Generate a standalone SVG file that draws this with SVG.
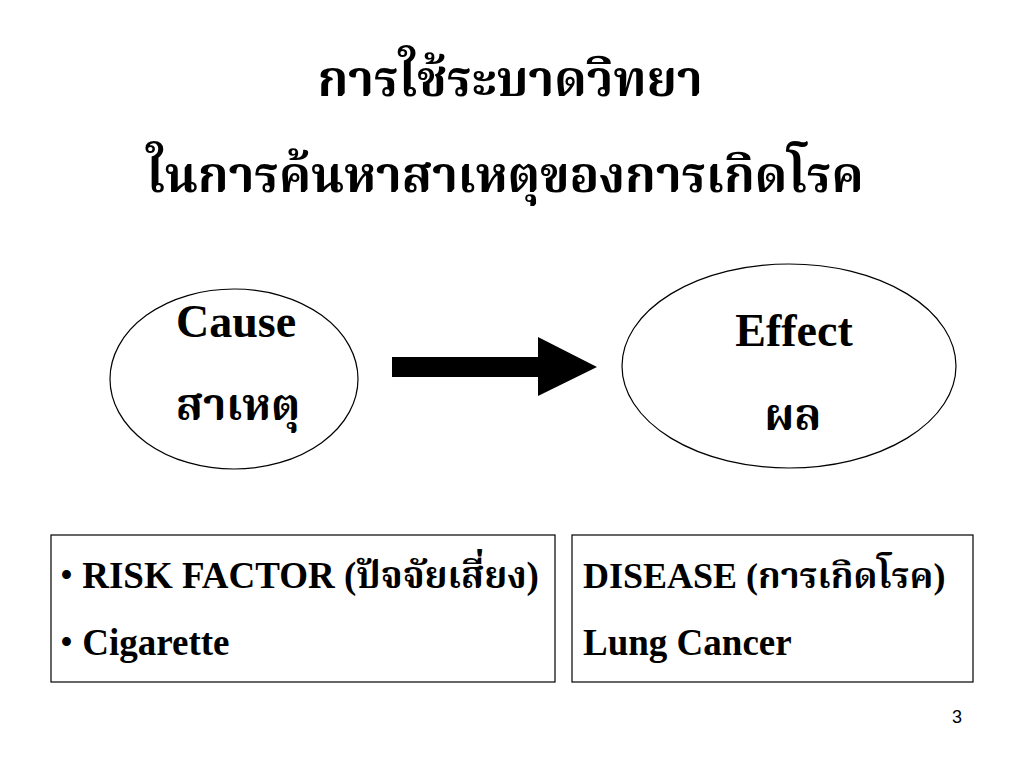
<svg xmlns="http://www.w3.org/2000/svg" width="1024" height="768" viewBox="0 0 1024 768">
<style>
.t{font-family:"Liberation Serif","Noto Serif Thai","Noto Sans Thai","DejaVu Serif",serif;font-weight:bold;fill:#000}
.shape{fill:#fff;stroke:#000;stroke-width:1.2}
.big{font-size:46px}
.box{font-size:37px}
</style>
<rect width="1024" height="768" fill="#fff"/>
<g id="title">
<text class="t" x="510" y="96" font-size="49" text-anchor="middle">การใช้ระบาดวิทยา</text>
<text class="t" x="505" y="192" font-size="49" text-anchor="middle">ในการค้นหาสาเหตุของการเกิดโรค</text>
</g>
<g id="cause">
<ellipse class="shape" cx="234" cy="379" rx="124" ry="90"/>
<text class="t big" x="236" y="337" text-anchor="middle">Cause</text>
<text class="t" x="238" y="420" font-size="44" text-anchor="middle">สาเหตุ</text>
</g>
<g id="effect">
<ellipse class="shape" cx="789" cy="366" rx="167" ry="102"/>
<text class="t big" x="794" y="346" text-anchor="middle">Effect</text>
<text class="t" x="793" y="430" font-size="44" text-anchor="middle">ผล</text>
</g>
<g id="connectors">
<polygon points="392,357 538,357 538,337 597,367 538,396 538,377 392,377" fill="#000"/>
</g>
<g id="risk">
<rect class="shape" x="51" y="535" width="504" height="147"/>
<text class="t box" x="60" y="588"><tspan font-weight="normal">•</tspan> RISK FACTOR (ปัจจัยเสี่ยง)</text>
<text class="t box" x="60" y="655"><tspan font-weight="normal">•</tspan> Cigarette</text>
</g>
<g id="disease">
<rect class="shape" x="572" y="535" width="401" height="147"/>
<text class="t" x="583" y="588" font-size="36">DISEASE (การเกิดโรค)</text>
<text class="t box" x="583" y="655">Lung Cancer</text>
</g>
<text x="957" y="723" font-family="Liberation Sans,Arial,sans-serif" font-size="18" fill="#000" text-anchor="middle">3</text>
</svg>
